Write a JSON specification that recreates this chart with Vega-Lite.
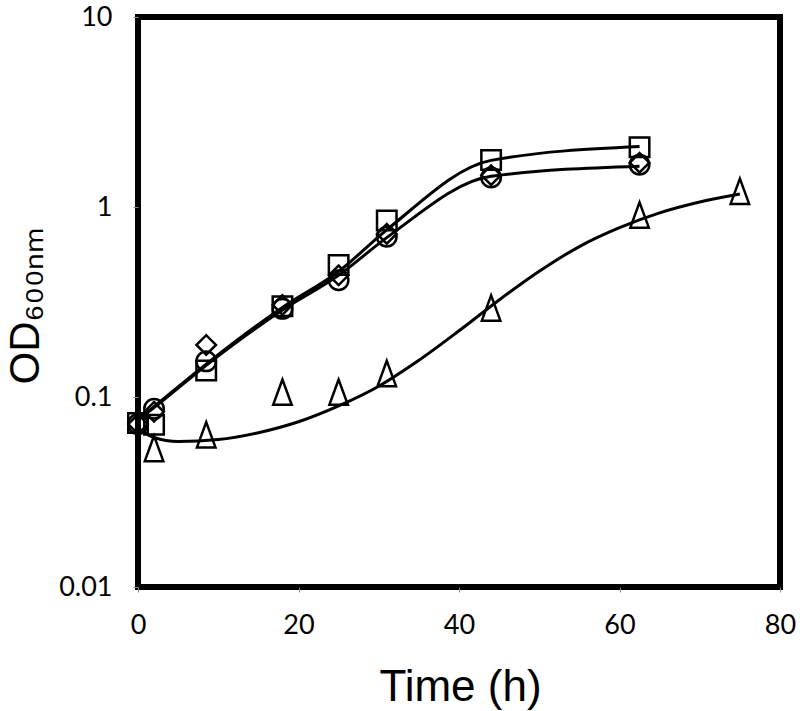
{
  "$schema": "https://vega.github.io/schema/vega-lite/v6.json",
  "width": 642,
  "height": 570,
  "autosize": {"type": "none"},
  "padding": {"left": 138, "top": 17, "right": 20, "bottom": 124},
  "background": "white",
  "config": {
    "view": {"stroke": "black", "strokeWidth": 6},
    "axis": {
      "labelFont": "Lato",
      "labelFontSize": 27,
      "labelColor": "#000000",
      "labelFlush": false,
      "labelOverlap": false,
      "domain": false,
      "grid": false,
      "tickSize": 5,
      "tickColor": "#888888",
      "tickWidth": 1,
      "titleFont": "Liberation Sans",
      "titleFontWeight": "normal",
      "titleColor": "#000000"
    }
  },
  "datasets": {
    "points": [
      {"series": "square", "t": 0, "od": 0.073},
      {"series": "square", "t": 2, "od": 0.0714},
      {"series": "square", "t": 8.5, "od": 0.138},
      {"series": "square", "t": 18, "od": 0.30},
      {"series": "square", "t": 25, "od": 0.495},
      {"series": "square", "t": 31, "od": 0.85},
      {"series": "square", "t": 44, "od": 1.77},
      {"series": "square", "t": 62.5, "od": 2.06},
      {"series": "diamond", "t": 0, "od": 0.072},
      {"series": "diamond", "t": 2, "od": 0.0836},
      {"series": "diamond", "t": 8.5, "od": 0.188},
      {"series": "diamond", "t": 18, "od": 0.305},
      {"series": "diamond", "t": 25, "od": 0.437},
      {"series": "diamond", "t": 31, "od": 0.722},
      {"series": "diamond", "t": 44, "od": 1.47},
      {"series": "diamond", "t": 62.5, "od": 1.71},
      {"series": "circle", "t": 0, "od": 0.072},
      {"series": "circle", "t": 2, "od": 0.0866},
      {"series": "circle", "t": 8.5, "od": 0.154},
      {"series": "circle", "t": 18, "od": 0.291},
      {"series": "circle", "t": 25, "od": 0.412},
      {"series": "circle", "t": 31, "od": 0.698},
      {"series": "circle", "t": 44, "od": 1.43},
      {"series": "circle", "t": 62.5, "od": 1.67},
      {"series": "triangle", "t": 2, "od": 0.0536},
      {"series": "triangle", "t": 8.5, "od": 0.0633},
      {"series": "triangle", "t": 18, "od": 0.106},
      {"series": "triangle", "t": 25, "od": 0.106},
      {"series": "triangle", "t": 31, "od": 0.133},
      {"series": "triangle", "t": 44, "od": 0.294},
      {"series": "triangle", "t": 62.5, "od": 0.908},
      {"series": "triangle", "t": 75, "od": 1.21}
    ],
    "curves": [
      {"curve": "upper", "t": 0, "od": 0.076},
      {"curve": "upper", "t": 2, "od": 0.089},
      {"curve": "upper", "t": 8.5, "od": 0.149},
      {"curve": "upper", "t": 18, "od": 0.296},
      {"curve": "upper", "t": 25, "od": 0.458},
      {"curve": "upper", "t": 31, "od": 0.758},
      {"curve": "upper", "t": 44, "od": 1.76},
      {"curve": "upper", "t": 62.5, "od": 2.08},
      {"curve": "lower", "t": 0, "od": 0.076},
      {"curve": "lower", "t": 2, "od": 0.088},
      {"curve": "lower", "t": 8.5, "od": 0.147},
      {"curve": "lower", "t": 18, "od": 0.287},
      {"curve": "lower", "t": 25, "od": 0.437},
      {"curve": "lower", "t": 31, "od": 0.69},
      {"curve": "lower", "t": 44, "od": 1.45},
      {"curve": "lower", "t": 62.5, "od": 1.64},
      {"curve": "tri", "t": 0, "od": 0.0681},
      {"curve": "tri", "t": 2, "od": 0.0612},
      {"curve": "tri", "t": 5, "od": 0.0583},
      {"curve": "tri", "t": 10, "od": 0.0597},
      {"curve": "tri", "t": 15, "od": 0.0649},
      {"curve": "tri", "t": 20, "od": 0.0741},
      {"curve": "tri", "t": 25, "od": 0.0898},
      {"curve": "tri", "t": 30, "od": 0.114},
      {"curve": "tri", "t": 35, "od": 0.156},
      {"curve": "tri", "t": 40, "od": 0.223},
      {"curve": "tri", "t": 45, "od": 0.324},
      {"curve": "tri", "t": 50, "od": 0.459},
      {"curve": "tri", "t": 55, "od": 0.619},
      {"curve": "tri", "t": 60, "od": 0.778},
      {"curve": "tri", "t": 65, "od": 0.931},
      {"curve": "tri", "t": 70, "od": 1.062},
      {"curve": "tri", "t": 75, "od": 1.17}
    ]
  },
  "layer": [
    {
      "data": {"name": "curves"},
      "mark": {"type": "line", "interpolate": "monotone", "color": "black", "strokeWidth": 3},
      "encoding": {
        "x": {
          "field": "t", "type": "quantitative",
          "scale": {"domain": [0, 80], "nice": false, "zero": false},
          "axis": {
            "values": [0, 20, 40, 60, 80],
            "labelBaseline": "alphabetic",
            "labelPadding": 41,
            "title": "Time (h)",
            "titleFontSize": 44,
            "titleBaseline": "alphabetic",
            "titleAlign": "center",
            "titleX": 322,
            "titleY": 113
          }
        },
        "y": {
          "field": "od", "type": "quantitative",
          "scale": {"type": "log", "domain": [0.01, 10], "nice": false},
          "axis": {
            "values": [0.01, 0.1, 1, 10],
            "format": "~g",
            "labelPadding": 21,
            "title": "OD₆₀₀ₙₘ",
            "titleFontSize": 42,
            "titleAngle": 270,
            "titleAlign": "center",
            "titleBaseline": "alphabetic",
            "titleX": -100,
            "titleY": 288
          }
        },
        "detail": {"field": "curve", "type": "nominal"}
      }
    },
    {
      "data": {"name": "points"},
      "mark": {"type": "point", "filled": false, "stroke": "black", "strokeWidth": 2.5, "size": 380, "opacity": 1},
      "encoding": {
        "x": {"field": "t", "type": "quantitative"},
        "y": {"field": "od", "type": "quantitative"},
        "shape": {
          "field": "series", "type": "nominal",
          "scale": {"domain": ["square", "diamond", "circle", "triangle"], "range": ["square", "diamond", "circle", "M0,-1.3L-0.95,1.3L0.95,1.3Z"]},
          "legend": null
        }
      }
    }
  ]
}
